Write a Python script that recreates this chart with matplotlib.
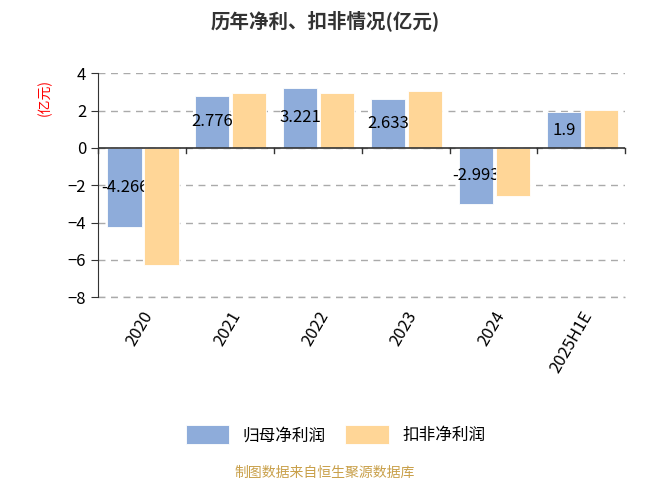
import matplotlib.pyplot as plt
import numpy as np

plt.rcParams['font.family'] = ['Noto Sans CJK SC', 'DejaVu Sans']

years = ["2020", "2021", "2022", "2023", "2024", "2025H1E"]
net_profit = [-4.266, 2.776, 3.221, 2.633, -2.993, 1.9]
net_profit_ex = [-6.27, 2.95, 2.95, 3.05, -2.57, 2.03]
net_labels = ["-4.266", "2.776", "3.221", "2.633", "-2.993", "1.9"]

blue = "#8eacda"
orange = "#ffd697"

fig = plt.figure(figsize=(6.5, 4.88), dpi=100)
ax = fig.add_axes([0.151, 0.391, 0.811, 0.459])
x = np.arange(len(years))
w = 0.39
ax.bar(x - 0.2, net_profit, w, color=blue, edgecolor="white", lw=0.6, zorder=2, label="归母净利润")
for xi, v, t in zip(x, net_profit, net_labels):
    ax.text(xi - 0.2, v / 2, t, ha="center", va="center", fontsize=12, color="black", zorder=3)
ax.bar(x + 0.22, net_profit_ex, w, color=orange, edgecolor="white", lw=0.6, zorder=4, label="扣非净利润")

ax.set_xlim(-0.5, len(years) - 0.5)
ax.set_ylim(-8, 4)
ax.set_yticks(range(-8, 5, 2))
ax.tick_params(axis="y", labelsize=12, color="#333333", length=5)
ax.yaxis.grid(True, ls=(0, (5, 4)), color="#aaaaaa", lw=1, zorder=0)
for s in ["top", "right", "bottom"]:
    ax.spines[s].set_visible(False)
ax.spines["left"].set_color("#333333")
ax.axhline(0, color="#333333", lw=1.2, zorder=5)
ax.axhline(-8, color="#aaaaaa", lw=1, ls=(0, (5, 4)), zorder=1, clip_on=False)
ax.set_xticks(x)
ax.set_xticklabels(years, rotation=60, ha="right", rotation_mode="anchor", fontsize=12)
ax.tick_params(axis="x", length=0, pad=8)
for b in np.arange(-0.5, len(years), 1):
    ax.plot([b, b], [0, -0.25], color="#333333", lw=1, zorder=5, clip_on=False)

fig.text(0.5, 0.958, "历年净利、扣非情况(亿元)", ha="center", va="center", fontsize=14, fontweight="bold", color="#333333")
fig.text(0.068, 0.80, "(亿元)", rotation=90, ha="center", va="center", fontsize=10, color="red")
ax.legend(loc="center", bbox_to_anchor=(0.45, -0.614), ncol=2, frameon=False, fontsize=12,
          handlelength=2.6, handleheight=1.4, columnspacing=1.2)
fig.text(0.5, 0.016, "制图数据来自恒生聚源数据库", ha="center", va="bottom", fontsize=10, color="#c9a04a")
fig.savefig("out.png", dpi=100)
